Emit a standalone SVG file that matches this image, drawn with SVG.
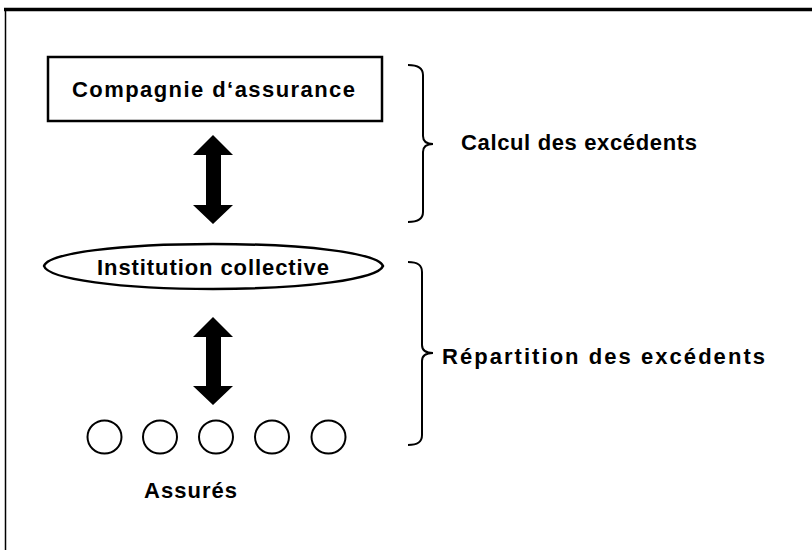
<svg xmlns="http://www.w3.org/2000/svg" width="812" height="550" viewBox="0 0 812 550">
<style>
text{font-family:"Liberation Sans",Arial,sans-serif;font-weight:bold;font-size:22px;fill:#000}
.ln{fill:none;stroke:#000;stroke-width:2.5}
.br{fill:none;stroke:#000;stroke-width:2}
.ar{fill:#000;stroke:none}
</style>
<rect width="812" height="550" fill="#fff"/>
<g id="frame">
<line x1="4" y1="9.5" x2="812" y2="9.5" stroke="#000" stroke-width="3.5"/>
<line x1="5.5" y1="9" x2="5.5" y2="550" stroke="#000" stroke-width="1.5"/>
</g>
<g id="compagnie">
<rect class="ln" x="48" y="57" width="334" height="64"/>
<text x="72" y="97" textLength="283" lengthAdjust="spacing">Compagnie d‘assurance</text>
</g>
<g id="institution">
<path class="ln" d="M44,266 C48,253 120,244 213,244 C306,244 378,253 383,266 C378,279 306,289 213,289 C120,289 48,279 44,266 Z"/>
<text x="97" y="275" textLength="232" lengthAdjust="spacing">Institution collective</text>
</g>
<g id="assures">
<ellipse class="br" cx="104.5" cy="437" rx="17" ry="16.5"/>
<ellipse class="br" cx="160" cy="437" rx="17" ry="16.5"/>
<ellipse class="br" cx="216" cy="437" rx="17" ry="16.5"/>
<ellipse class="br" cx="272" cy="437" rx="17" ry="16.5"/>
<ellipse class="br" cx="328.5" cy="437" rx="17" ry="16.5"/>
<text x="144" y="498" textLength="93" lengthAdjust="spacing">Assurés</text>
</g>
<g id="calcul">
<path class="br" d="M408,65 C418,65 423,68 423,75 L423,136 C423,141 426,144 433,144 C426,144 423,147 423,152 L423,212 C423,219 418,222 408,222"/>
<text x="461" y="150" textLength="236" lengthAdjust="spacing">Calcul des excédents</text>
</g>
<g id="repartition">
<path class="br" d="M408,262 C418,262 422,265 422,272 L422,345 C422,350 426,353 433,353 C426,353 422,356 422,361 L422,435 C422,442 418,445 408,445"/>
<text x="442" y="364" textLength="323" lengthAdjust="spacing">Répartition des excédents</text>
</g>
<g id="connectors">
<path class="ar" d="M213,135 L233,155 L221,155 L221,205 L233,205 L213,224 L193,205 L206,205 L206,155 L193,155 Z"/>
<path class="ar" d="M213,317 L233,337 L221,337 L221,386 L233,386 L213,405 L193,386 L206,386 L206,337 L193,337 Z"/>
</g>
</svg>
